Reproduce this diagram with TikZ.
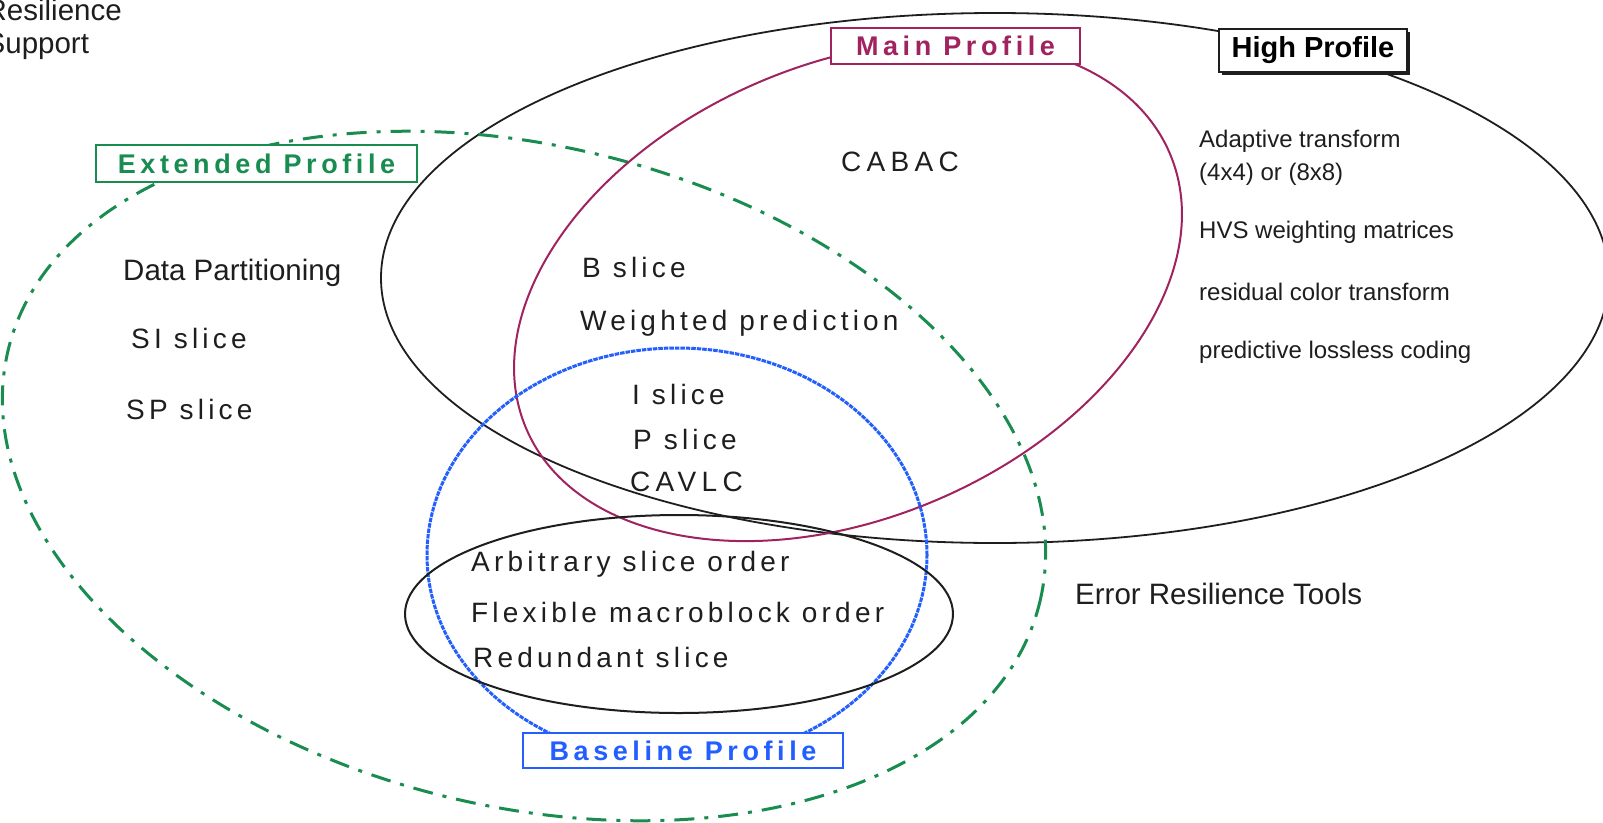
\documentclass[tikz,border=0pt]{standalone}
\usepackage{fontspec}
\setmainfont{Liberation Sans}
\newfontfamily\lsfont[LetterSpace=15]{Liberation Sans}
\newfontfamily\lswfont[LetterSpace=19]{Liberation Sans}
\newfontfamily\lbfont[LetterSpace=17]{Liberation Sans}
\usetikzlibrary{shadows}
\definecolor{mag}{RGB}{160,35,95}
\definecolor{grn}{RGB}{25,140,80}
\definecolor{blu}{RGB}{35,95,255}
\definecolor{ink}{RGB}{30,30,30}
\begin{document}
\begin{tikzpicture}[x=1pt,y=-1pt,
  txt/.style={inner sep=0pt, anchor=base west, text=ink, font=\fontsize{29.5}{35}\selectfont},
  rtxt/.style={inner sep=0pt, anchor=base west, text=ink, font=\fontsize{24}{29}\selectfont},
  sptxt/.style={inner sep=0pt, anchor=base west, text=ink, font=\lsfont\fontsize{28}{34}\selectfont},
  swtxt/.style={inner sep=0pt, anchor=base west, text=ink, font=\lswfont\fontsize{28}{34}\selectfont},
  lbl/.style={draw, fill=white, line width=1.5pt, inner sep=0pt, font=\lbfont\bfseries\fontsize{27}{32}\selectfont},
  hiline/.style={draw=ink, line width=1.8pt},
  errline/.style={draw=ink, line width=2pt},
  magline/.style={draw=mag, line width=2pt},
  bluline/.style={draw=blu, line width=3pt, dash pattern=on 4.5pt off 1pt},
  grnline/.style={draw=grn, line width=3pt, dash pattern=on 20pt off 10pt on 4pt off 10pt}
]
\useasboundingbox (0,0) rectangle (1603,822);
\fill[white] (0,0) rectangle (1603,822);

% ellipses
\draw[hiline] (995,278) ellipse [x radius=614pt, y radius=265pt];
\draw[grnline, rotate around={-13.85:(524,476)}] (524,476) ellipse [x radius=531pt, y radius=330pt];
\draw[magline, rotate around={23.2:(848,291)}] (848,291) ellipse [x radius=350pt, y radius=227pt];
\draw[bluline] (677,555) ellipse [x radius=250pt, y radius=207pt];
\draw[errline] (679,614) ellipse [x radius=274pt, y radius=99pt];

% profile labels
\node[lbl, draw=mag, text=mag, minimum width=249pt, minimum height=36pt] (main) at (955.5,46) {Main Profile};
\node[lbl, draw=grn, text=grn, minimum width=321pt, minimum height=37pt] (ext) at (256.5,163.5) {Extended Profile};
\node[lbl, draw=blu, text=blu, minimum width=320pt, minimum height=35pt] (base) at (683,750.5) {Baseline Profile};
\node[draw=ink, fill=white, line width=1.5pt, inner sep=0pt, minimum width=188pt, minimum height=43pt,
      font=\bfseries\fontsize{29}{34}\selectfont, text=black,
      drop shadow={shadow xshift=2.5pt, shadow yshift=-2.5pt, fill=ink, opacity=1}] (high) at (1313,50.5) {High Profile};

% texts
\node[txt] (res1) at (-14.5,20) {Resilience};
\node[txt] (res2) at (-14.5,53) {Support};
\node[txt] (dp) at (123,280) {Data Partitioning};
\node[sptxt] (si) at (131,348) {SI slice};
\node[sptxt] (spx) at (126,419) {SP slice};
\node[swtxt] (cabac) at (841,171) {CABAC};
\node[sptxt] (bs) at (582,277) {B slice};
\node[sptxt] (wp) at (580,330) {Weighted prediction};
\node[sptxt] (is) at (632,404) {I slice};
\node[sptxt] (ps) at (633,449) {P slice};
\node[swtxt] (cavlc) at (630,491) {CAVLC};
\node[sptxt] (aso) at (471,571) {Arbitrary slice order};
\node[sptxt] (fmo) at (471,622) {Flexible macroblock order};
\node[sptxt] (rs) at (473,667) {Redundant slice};
\node[rtxt] (at1) at (1199,147) {Adaptive transform};
\node[rtxt] (at2) at (1199,180) {(4x4) or (8x8)};
\node[rtxt] (hvs) at (1199,238) {HVS weighting matrices};
\node[rtxt] (rct) at (1199,300) {residual color transform};
\node[rtxt] (plc) at (1199,358) {predictive lossless coding};
\node[txt] (ert) at (1075,604) {Error Resilience Tools};
\end{tikzpicture}
\end{document}
